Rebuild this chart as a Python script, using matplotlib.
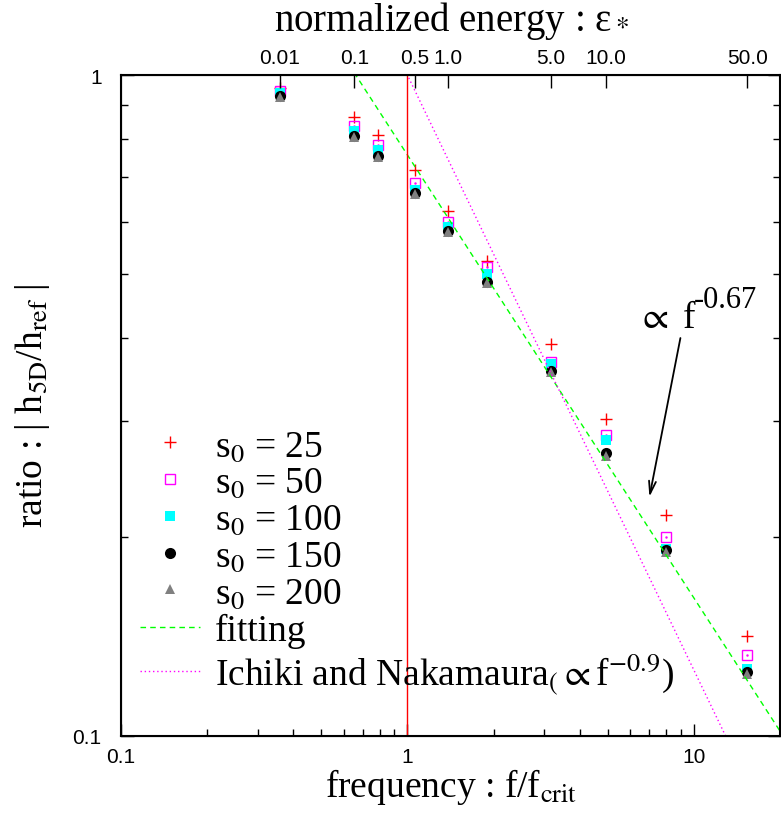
import matplotlib
matplotlib.use('Agg')
import matplotlib.pyplot as plt
from matplotlib.ticker import FixedLocator, NullFormatter, LogLocator
import numpy as np

# data
freq = [0.359, 0.652, 0.792, 1.063, 1.388, 1.898, 3.17, 4.93, 7.98, 15.4]
ratio_s25 = [0.955, 0.865, 0.811, 0.718, 0.622, 0.524, 0.392, 0.302, 0.216, 0.1415]
ratio_s50 = [0.946, 0.837, 0.784, 0.686, 0.600, 0.512, 0.368, 0.285, 0.200, 0.1326]
ratio_s100 = [0.939, 0.823, 0.770, 0.671, 0.588, 0.500, 0.365, 0.280, 0.192, 0.1263]
ratio_s150 = [0.930, 0.809, 0.753, 0.664, 0.581, 0.487, 0.357, 0.268, 0.191, 0.1248]
ratio_s200 = [0.927, 0.807, 0.751, 0.661, 0.579, 0.484, 0.355, 0.265, 0.190, 0.1241]

energy_labels = ['0.01', '0.1', '0.5', '1.0', '5.0', '10.0', '50.0']
energy_freq = [0.359, 0.652, 1.063, 1.388, 3.17, 4.93, 15.4]

fit_coef = 0.757
fit_exp = -0.67
ichiki_exp = -0.9
f_crit = 1.0

plt.rcParams['font.family'] = ['Liberation Serif', 'DejaVu Serif']
plt.rcParams['mathtext.fontset'] = 'stix'

W, H = 781, 820
fig = plt.figure(figsize=(W/100, H/100), dpi=100)
ax = fig.add_axes([121/W, 1-737/H, (780-121)/W, (737-76)/H])
ax.set_xscale('log')
ax.set_yscale('log')
ax.set_xlim(0.1, 20)
ax.set_ylim(0.1, 1)

ax.plot(freq, ratio_s25, ls='none', marker='+', ms=9, mew=1.0, color='#ff0000',
        label=r's$_0$ = 25')
ax.plot(freq, ratio_s50, ls='none', marker='s', ms=7.5, mew=1.0, mfc='none', color='#ff00ff',
        label=r's$_0$ = 50')
ax.plot(freq, ratio_s50, ls='none', marker='.', ms=1.5, color='#ff00ff')
ax.plot(freq, ratio_s100, ls='none', marker='s', ms=7.5, mew=0, color='#00ffff',
        label=r's$_0$ = 100')
ax.plot(freq, ratio_s150, ls='none', marker='o', ms=8, mew=0, color='black',
        label=r's$_0$ = 150')
ax.plot(freq, ratio_s200, ls='none', marker='^', ms=7.5, mew=0, color='#808080',
        label=r's$_0$ = 200')

fx = np.array([0.1, 20.0])
ax.plot(fx, fit_coef * fx**fit_exp, color='#00ff00', lw=1, ls=(0, (4, 3)), label='fitting')
ax.plot(fx, fx**ichiki_exp, color='#ff00ff', lw=1, ls=(0, (1, 2)),
        label=r'Ichiki and Nakamaura$_{(}$$\propto$f$^{-0.9}$)')
ax.axvline(f_crit, color='#ff0000', lw=1)

# annotation: arrow and the power law text
ax.annotate('', xy=(7.0, 0.23), xytext=(8.98, 0.40),
            arrowprops=dict(arrowstyle='->,head_length=0.9,head_width=0.25', lw=1.3, color='black',
                            shrinkA=0, shrinkB=0))
ax.text(6.31, 0.416, r'$\propto$ f', fontsize=27, va='baseline', ha='left')
ax.text(9.97, 0.446, '-0.67', fontsize=22, va='baseline', ha='left')

# ticks
tickfont = dict(family='Liberation Sans', size=15)
ax.xaxis.set_major_locator(FixedLocator([0.1, 1, 10]))
ax.set_xticklabels(['0.1', '1', '10'], **tickfont)
ax.xaxis.set_minor_locator(LogLocator(base=10, subs=np.arange(2, 10)))
ax.xaxis.set_minor_formatter(NullFormatter())
ax.yaxis.set_major_locator(FixedLocator([0.1, 1]))
ax.set_yticklabels(['0.1', '1'], **tickfont)
ax.yaxis.set_minor_locator(LogLocator(base=10, subs=np.arange(2, 10)))
ax.yaxis.set_minor_formatter(NullFormatter())
ax.tick_params(which='both', direction='in', top=False, right=True, width=1)
ax.tick_params(which='major', length=9)
ax.tick_params(which='minor', length=5)
ax.tick_params(axis='x', which='major', pad=8)
ax.tick_params(axis='y', which='major', pad=14)
for s in ax.spines.values():
    s.set_linewidth(1.5)

top = ax.twiny()
top.set_xscale('log')
top.set_xlim(ax.get_xlim())
top.xaxis.set_major_locator(FixedLocator(energy_freq))
top.set_xticklabels(energy_labels, **tickfont)
top.xaxis.set_minor_locator(FixedLocator([]))
top.tick_params(which='major', direction='in', length=9, width=1, pad=6)

fig.text(452/W, 1-31/H, r'normalized energy : ε$_*$', fontsize=28, ha='center', va='baseline')
fig.text(451/W, 1-797/H, r'frequency : f/f$_{\rm crit}$', fontsize=27, ha='center', va='baseline')
fig.text(33/W, 1-406/H, r'ratio : | h$_{\rm 5D}$/h$_{\rm ref}$ |', fontsize=27, rotation=90,
         ha='center', va='center')

leg = ax.legend(loc='upper left', bbox_to_anchor=(140/W, 1-430/H), bbox_transform=fig.transFigure,
                frameon=False, fontsize=27, borderpad=0, borderaxespad=0, handlelength=1.6,
                handletextpad=0.4, labelspacing=0.06, numpoints=1)

fig.savefig('out.png', dpi=100)
